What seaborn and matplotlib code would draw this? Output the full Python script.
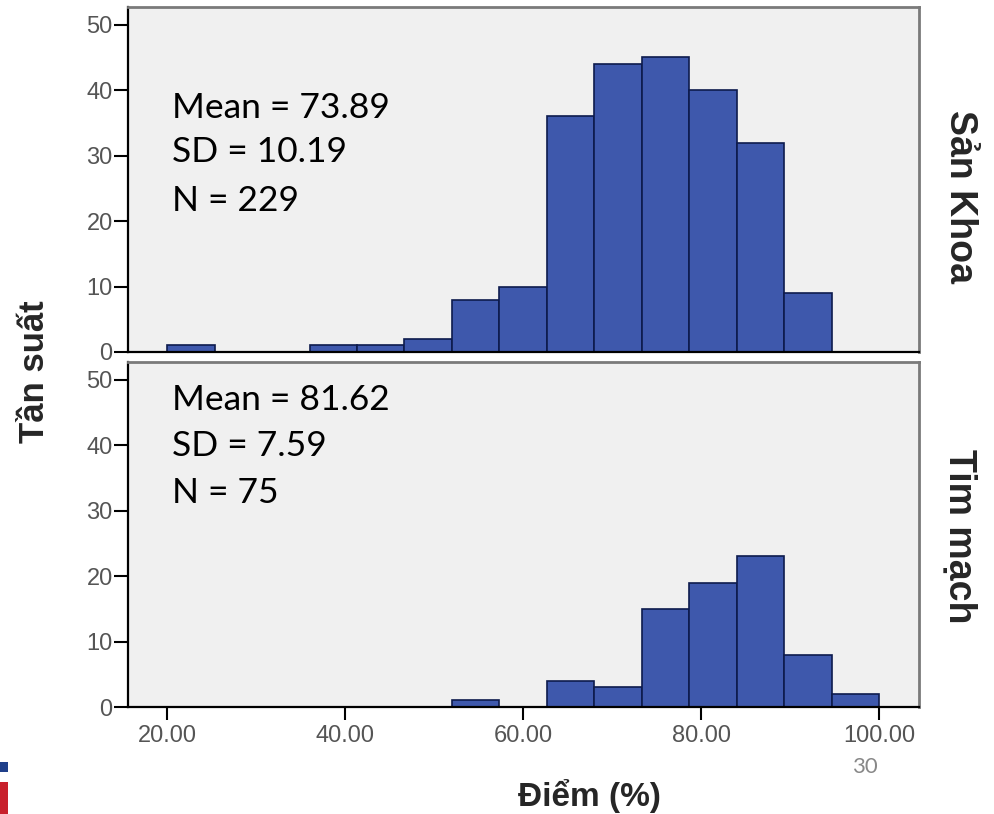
import numpy as np
import pandas as pd
import matplotlib
matplotlib.use("Agg")
import matplotlib.pyplot as plt
import seaborn as sns
from matplotlib.patches import Rectangle

# histogram bins (15 equal bins from 20 to 100)
bin_edges = list(np.linspace(20, 100, 16))
bin_centers = [(a + b) / 2 for a, b in zip(bin_edges[:-1], bin_edges[1:])]

san_khoa_counts = [1, 0, 0, 1, 1, 2, 8, 10, 36, 44, 45, 40, 32, 9, 0]
tim_mach_counts = [0, 0, 0, 0, 0, 0, 1, 0, 4, 3, 15, 19, 23, 8, 2]

panel_names = ["Sản Khoa", "Tim mạch"]
panel_stats = [["Mean = 73.89", "SD = 10.19", "N = 229"],
               ["Mean = 81.62", "SD = 7.59", "N = 75"]]

x_ticks = [20, 40, 60, 80, 100]
y_ticks = [0, 10, 20, 30, 40, 50]

sns.set_style("white")
plt.rcParams['font.family'] = ['Liberation Sans', 'DejaVu Sans']

fig = plt.figure(figsize=(9.95, 8.14), dpi=100)
ax_top = fig.add_axes([128 / 995, 1 - 352 / 814, 791 / 995, 345 / 814])
ax_bot = fig.add_axes([128 / 995, 1 - 707 / 814, 791 / 995, 345 / 814])

bar_color = '#3e58ac'
edge_color = '#0d1b4d'

# text baselines (in data units) for the stats block of each panel
stat_y = [[35.8, 29.0, 21.6], [45.3, 38.4, 31.1]]
label_y = [197, 536]

for i, (ax, counts) in enumerate(zip([ax_top, ax_bot], [san_khoa_counts, tim_mach_counts])):
    df = pd.DataFrame({'score': bin_centers, 'count': counts})
    sns.histplot(data=df, x='score', weights='count', bins=bin_edges, ax=ax,
                 color=bar_color, edgecolor=edge_color, linewidth=1.2, alpha=1)
    ax.set_facecolor('#f0f0f0')
    ax.set_xlim(15.6, 104.5)
    ax.set_ylim(0, 52.7)
    ax.set_yticks(y_ticks)
    ax.set_xlabel('')
    ax.set_ylabel('')
    ax.tick_params(axis='y', direction='out', length=10, width=1.5, color='black',
                   labelsize=17, labelcolor='#555555', pad=1, left=True)
    for side in ['left', 'bottom']:
        ax.spines[side].set_color('black')
        ax.spines[side].set_linewidth(1.6)
    for side in ['top', 'right']:
        ax.spines[side].set_color('#7a7a7a')
        ax.spines[side].set_linewidth(2)
    for line, yv in zip(panel_stats[i], stat_y[i]):
        ax.text(20.6, yv, line, fontsize=25.5, family=['Lato', 'DejaVu Sans'],
                color='black', va='baseline', ha='left')
    fig.text(960 / 995, 1 - label_y[i] / 814, panel_names[i], rotation=-90,
             fontsize=27, fontweight='bold', ha='center', va='center')

ax_top.set_xticks([])
ax_bot.set_xticks(x_ticks)
ax_bot.set_xticklabels([f"{t:.2f}" for t in x_ticks])
ax_bot.tick_params(axis='x', direction='out', length=9, width=1.5, color='black',
                   labelsize=17, labelcolor='#555555', pad=4, bottom=True)

fig.text(35 / 995, 1 - 372 / 814, "Tần suất", rotation=90, fontsize=25,
         fontweight='bold', ha='center', va='center')
fig.text(589 / 995, 1 - 806 / 814, "Điểm (%)", fontsize=24,
         fontweight='bold', ha='center', va='baseline')
fig.text(865 / 995, 1 - 767 / 814, "30", fontsize=16, color='#888888',
         family=['Lato', 'DejaVu Sans'], ha='center', va='center')

# slide logo fragments at the lower left
fig.add_artist(Rectangle((0, 1 - 772 / 814), 8 / 995, 10 / 814,
                         transform=fig.transFigure, color='#1f3f8a', lw=0))
fig.add_artist(Rectangle((0, 0), 8 / 995, 32 / 814,
                         transform=fig.transFigure, color='#c8202c', lw=0))

fig.savefig('out.png', dpi=100)
